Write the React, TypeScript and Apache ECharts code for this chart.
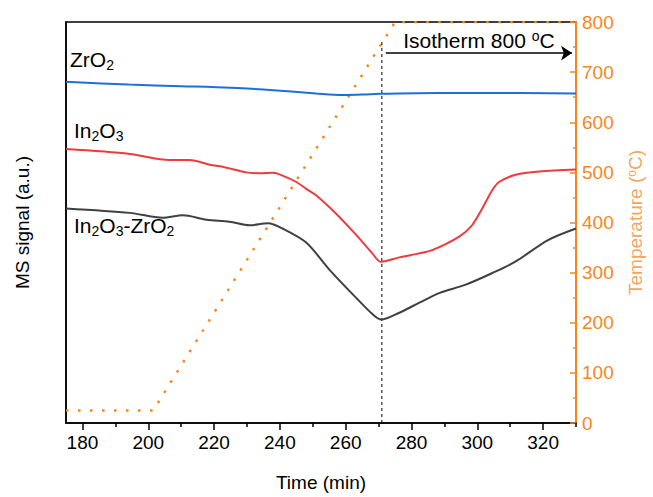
import React, { useEffect, useRef } from 'react';
import * as echarts from 'echarts';

const xMin = 175;
const xMax = 330;
const majorTicks = [180, 200, 220, 240, 260, 280, 300, 320];
const minorTicks = [190, 210, 230, 250, 270, 290, 310, 330];

const tempTime = [175, 201.5, 275, 330];
const tempValue = [25, 25, 800, 800];

const zrTime = [175, 194, 210, 225, 238, 251, 259, 265, 270, 276, 300, 330];
const zrSignal = [85.1, 84.4, 84.0, 83.6, 83.0, 82.2, 81.8, 81.9, 82.1, 82.2, 82.3, 82.2];

const inTime = [175, 194.4, 206.5, 212.6, 218.7, 222.6, 229.8, 233.8, 237.9, 240.8, 245, 248, 251, 257.1, 263.2, 268.1, 270.6, 272.3, 276.3, 282.4, 286.3, 294.5, 298.4, 301.5, 304.5, 306.6, 311.7, 318.8, 330];
const inSignal = [68.3, 67.1, 65.6, 65.6, 64.4, 63.9, 62.5, 62.3, 62.4, 61.7, 60.1, 58.4, 56.8, 52.2, 46.9, 42.3, 40.2, 40.4, 41.3, 42.3, 43.1, 46.5, 49.3, 53.5, 58.0, 60.1, 61.9, 62.7, 63.2];

const inZrTime = [175, 194.4, 204.4, 210.5, 217.7, 224.7, 230.8, 236.4, 240.8, 248, 255.1, 263.2, 268.2, 270.8, 276.3, 282.4, 288.4, 296.5, 304.6, 311.7, 321.5, 330];
const inZrSignal = [53.5, 52.4, 51.2, 51.8, 50.7, 50.2, 49.3, 49.8, 48.5, 45.0, 38.2, 31.2, 27.1, 25.8, 27.5, 30.0, 32.4, 34.5, 37.4, 40.3, 45.6, 48.5];

const isothermStart = 271;
const isothermTopTemp = 765;
const arrowFrom = 272.2;
const arrowTo = 328.8;
const arrowTemp = 738;

const FONT = 'Liberation Sans, Arial, sans-serif';
const ORANGE = '#F7861C';

const zip = (a: number[], b: number[]) => a.map((v, i) => [v, b[i]]);

export default function App() {
  const ref = useRef<HTMLDivElement>(null);
  useEffect(() => {
    document.body.style.margin = '0';
    const chart = echarts.init(ref.current!, null, { renderer: 'svg' });
    const subRich = {
      a: { fontSize: 21, lineHeight: 25, fontFamily: FONT, color: '#000' },
      s: { fontSize: 14, lineHeight: 14, verticalAlign: 'bottom', fontFamily: FONT, color: '#000' },
    };
    chart.setOption({
      animation: false,
      textStyle: { fontFamily: FONT },
      grid: { left: 66, right: 76, top: 22, bottom: 71, show: true, borderColor: '#000', borderWidth: 1.5 },
      xAxis: [
        {
          type: 'value', min: xMin, max: xMax, position: 'bottom',
          axisLine: { lineStyle: { color: '#000', width: 1.5 } },
          axisTick: { length: 7, customValues: majorTicks, lineStyle: { color: '#000', width: 1.5 } },
          axisLabel: { customValues: majorTicks, fontSize: 19, color: '#000', margin: 10, fontFamily: FONT },
          splitLine: { show: false },
          name: 'Time (min)', nameLocation: 'middle', nameGap: 50,
          nameTextStyle: { fontSize: 19, color: '#000', fontFamily: FONT },
        },
        {
          type: 'value', min: xMin, max: xMax, position: 'bottom',
          axisLine: { show: false },
          axisTick: { length: 4, customValues: minorTicks, lineStyle: { color: '#000', width: 1.5 } },
          axisLabel: { show: false },
          splitLine: { show: false },
        },
      ],
      yAxis: [
        {
          type: 'value', min: 0, max: 100, position: 'left',
          axisLine: { show: true, lineStyle: { color: '#000', width: 1.5 } },
          axisTick: { show: false }, axisLabel: { show: false }, splitLine: { show: false },
          name: 'MS signal (a.u.)', nameLocation: 'middle', nameGap: 34,
          nameTextStyle: { fontSize: 19, color: '#000', fontFamily: FONT },
        },
        {
          type: 'value', min: 0, max: 800, interval: 100, position: 'right',
          axisLine: { show: true, lineStyle: { color: ORANGE, width: 2 } },
          axisTick: { show: true, inside: true, length: 6, lineStyle: { color: ORANGE, width: 1.5 } },
          minorTick: { show: true, splitNumber: 2, length: 3, lineStyle: { color: ORANGE, width: 1.5 } },
          axisLabel: { fontSize: 19, color: ORANGE, margin: 6, fontFamily: FONT },
          splitLine: { show: false },
          name: 'Temperature ({s|o}C)', nameLocation: 'middle', nameGap: 50,
          nameTextStyle: {
            fontSize: 19, color: '#F4A661', fontFamily: FONT,
            rich: { s: { fontSize: 12, lineHeight: 12, verticalAlign: 'top', color: '#F4A661', fontFamily: FONT } },
          },
        },
      ],
      series: [
        {
          name: 'Temperature', type: 'line', yAxisIndex: 1, data: zip(tempTime, tempValue),
          symbol: 'none', lineStyle: { color: ORANGE, width: 2.5, type: [2.5, 9.5], cap: 'butt' },
          markLine: {
            silent: true, symbol: ['none', 'arrow'], symbolSize: 11,
            lineStyle: { color: '#000', width: 1.5, type: 'solid' },
            label: {
              show: true, position: 'middle', distance: 2,
              formatter: '{a|Isotherm 800 }{s|o}{a|C}',
              rich: {
                a: { fontSize: 21, lineHeight: 22, color: '#000', fontFamily: FONT },
                s: { fontSize: 14, lineHeight: 14, verticalAlign: 'top', color: '#000', fontFamily: FONT },
              },
            },
            data: [[{ coord: [arrowFrom, arrowTemp] }, { coord: [arrowTo, arrowTemp] }]],
          },
        },
        {
          name: 'Isotherm start', type: 'line', yAxisIndex: 1,
          data: [[isothermStart, 0], [isothermStart, isothermTopTemp]],
          symbol: 'none', lineStyle: { color: '#000', width: 1, type: [3, 3] },
        },
        {
          name: 'ZrO2', type: 'line', yAxisIndex: 0, data: zip(zrTime, zrSignal), smooth: 0.3,
          symbol: 'none', lineStyle: { color: '#1E6FD9', width: 2 },
        },
        {
          name: 'In2O3', type: 'line', yAxisIndex: 0, data: zip(inTime, inSignal), smooth: 0.3,
          symbol: 'none', lineStyle: { color: '#EF3B3E', width: 2 },
        },
        {
          name: 'In2O3-ZrO2', type: 'line', yAxisIndex: 0, data: zip(inZrTime, inZrSignal), smooth: 0.3,
          symbol: 'none', lineStyle: { color: '#404040', width: 2 },
        },
      ],
      graphic: [
        { type: 'text', left: 70, top: 49, style: { text: '{a|ZrO}{s|2}', rich: subRich } },
        { type: 'text', left: 74, top: 120, style: { text: '{a|In}{s|2}{a|O}{s|3}', rich: subRich } },
        { type: 'text', left: 74, top: 215, style: { text: '{a|In}{s|2}{a|O}{s|3}{a|-ZrO}{s|2}', rich: subRich } },
      ],
    });
    return () => chart.dispose();
  }, []);
  return <div ref={ref} style={{ width: 653, height: 497 }} />;
}
